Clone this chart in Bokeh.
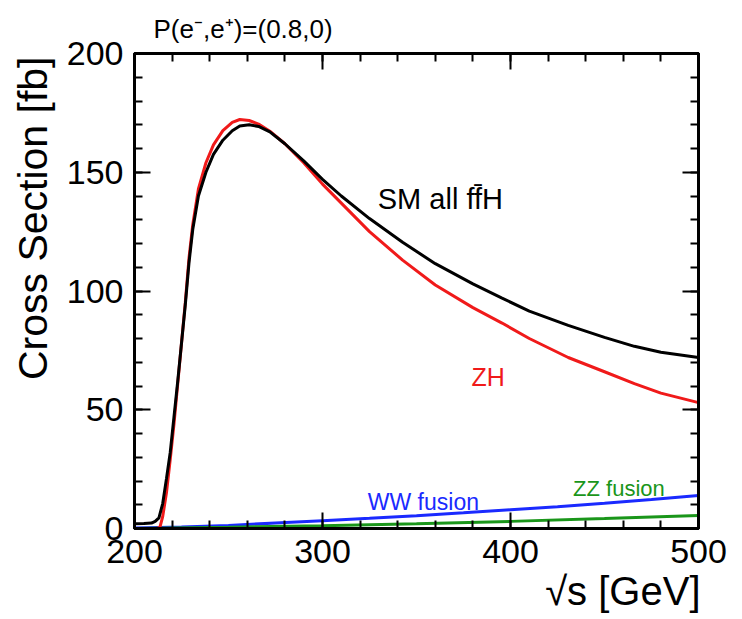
from bokeh.plotting import figure
from bokeh.models import Range1d, LinearAxis, SingleIntervalTicker, Label, Title, CustomJSTickFormatter
from bokeh.embed import file_html
from bokeh.resources import INLINE

# ---- data ----
sm_x = [200, 205, 209, 211, 213, 215, 217, 219, 221, 223, 225, 227, 229, 231, 234, 238, 242, 247,
        252, 256, 261, 266, 272, 280, 290, 300, 310, 325, 342.6, 360, 380, 395.5, 410, 430.7, 450,
        465.9, 480, 500]
sm_y = [2.0, 2.1, 2.3, 3.0, 4.5, 10.5, 21, 32, 47, 62, 78, 94, 112, 126, 140, 150, 157.5, 163.5,
        167.5, 169.5, 170, 169.3, 167, 162, 154.8, 147, 140, 130.5, 120.5, 111.5, 103, 97, 91.5,
        85.5, 80.5, 76.7, 74.2, 72]

zh_x = [200, 212, 213.5, 215, 217, 219, 221, 223, 225, 227, 229, 231, 234, 238, 242, 247, 252, 256,
        261, 266, 272, 280, 290, 300, 310, 325, 342.6, 360, 380, 395.5, 410, 430.7, 450, 465.9,
        480, 500]
zh_y = [0, 0, 0.5, 5, 15, 29, 44, 61, 78, 95, 114, 128, 143, 154, 161.5, 167.5, 171, 172.2,
        171.8, 170.3, 167.3, 162, 154, 145, 137, 125, 113, 102.5, 93, 86.5, 80, 72, 66, 61, 57, 53]

ww_x = [200, 225, 250, 275, 300, 325, 350, 375, 400, 425, 450, 475, 500]
ww_y = [0.2, 0.6, 1.3, 2.3, 3.3, 4.3, 5.4, 6.6, 7.9, 9.2, 10.6, 12.2, 13.9]

zz_x = [200, 250, 300, 350, 400, 450, 500]
zz_y = [0.05, 0.5, 1.2, 2.0, 3.0, 4.2, 5.5]

title_text = "P(e\u207b,e\u207a)=(0.8,0)"
x_label = "\u221as [GeV]"
y_label = "Cross Section [fb]"

FONT = "Liberation Sans"
RED = "#f01a1a"
BLUE = "#1a2aff"
GREEN = "#1a961a"

p = figure(width=742, height=619, output_backend="svg", toolbar_location=None,
           x_range=Range1d(200, 500), y_range=Range1d(0, 200),
           x_axis_location=None, y_axis_location=None,
           min_border_left=130, min_border_right=44, min_border_top=53, min_border_bottom=91)
p.grid.visible = False
p.outline_line_color = "black"
p.outline_line_width = 3
p.background_fill_color = "white"
p.border_fill_color = "white"


def style_axis(ax, show_labels):
    ax.axis_line_width = 3
    ax.axis_line_color = "black"
    ax.major_tick_in = 16
    ax.major_tick_out = 0
    ax.minor_tick_in = 8
    ax.minor_tick_out = 0
    ax.major_tick_line_width = 2
    ax.minor_tick_line_width = 2
    ax.major_tick_line_color = "black"
    ax.minor_tick_line_color = "black"
    ax.major_label_text_font = FONT
    ax.major_label_text_color = "black"
    if show_labels:
        ax.major_label_text_font_size = "34px"
        ax.major_label_standoff = 11
    else:
        ax.formatter = CustomJSTickFormatter(code="return ''")
        ax.major_label_text_font_size = "2px"
        ax.major_label_standoff = 0


bottom = LinearAxis(ticker=SingleIntervalTicker(interval=100, num_minor_ticks=5))
style_axis(bottom, True)
p.add_layout(bottom, "below")

top = LinearAxis(ticker=SingleIntervalTicker(interval=100, num_minor_ticks=5))
style_axis(top, False)
p.add_layout(top, "above")

p.add_layout(Title(text=title_text, align="left", offset=19, standoff=20,
                   text_font=FONT, text_font_size="26px", text_font_style="normal",
                   text_color="black"), "above")

for loc in ["left", "right"]:
    ax = LinearAxis(ticker=SingleIntervalTicker(interval=50, num_minor_ticks=5))
    style_axis(ax, loc == "left")
    p.add_layout(ax, loc)

p.add_layout(Title(text=x_label, align="right", offset=-2, standoff=3,
                   text_font=FONT, text_font_size="40px", text_font_style="normal",
                   text_color="black"), "below")
p.add_layout(Title(text=y_label, align="right", offset=3, standoff=15,
                   text_font=FONT, text_font_size="41px", text_font_style="normal",
                   text_color="black"), "left")

p.line(ww_x, ww_y, line_color=BLUE, line_width=3)
p.line(zz_x, zz_y, line_color=GREEN, line_width=3)
p.line(zh_x, zh_y, line_color=RED, line_width=3)
p.line(sm_x, sm_y, line_color="black", line_width=3)

labels = [
    Label(x=329.4, y=138.8, text="SM all ff\u0304H", text_font=FONT, text_font_size="29px",
          text_color="black", text_baseline="alphabetic"),
    Label(x=379.2, y=63.7, text="ZH", text_font=FONT, text_font_size="25px",
          text_color=RED, text_baseline="alphabetic"),
    Label(x=324.1, y=11.1, text="WW fusion", text_font=FONT, text_font_size="23px",
          text_color=BLUE, text_baseline="alphabetic"),
    Label(x=433.3, y=16.7, text="ZZ fusion", text_font=FONT, text_font_size="22px",
          text_color=GREEN, text_baseline="alphabetic"),
]
for lab in labels:
    p.add_layout(lab)

open("out.html", "w").write(file_html(p, INLINE))
